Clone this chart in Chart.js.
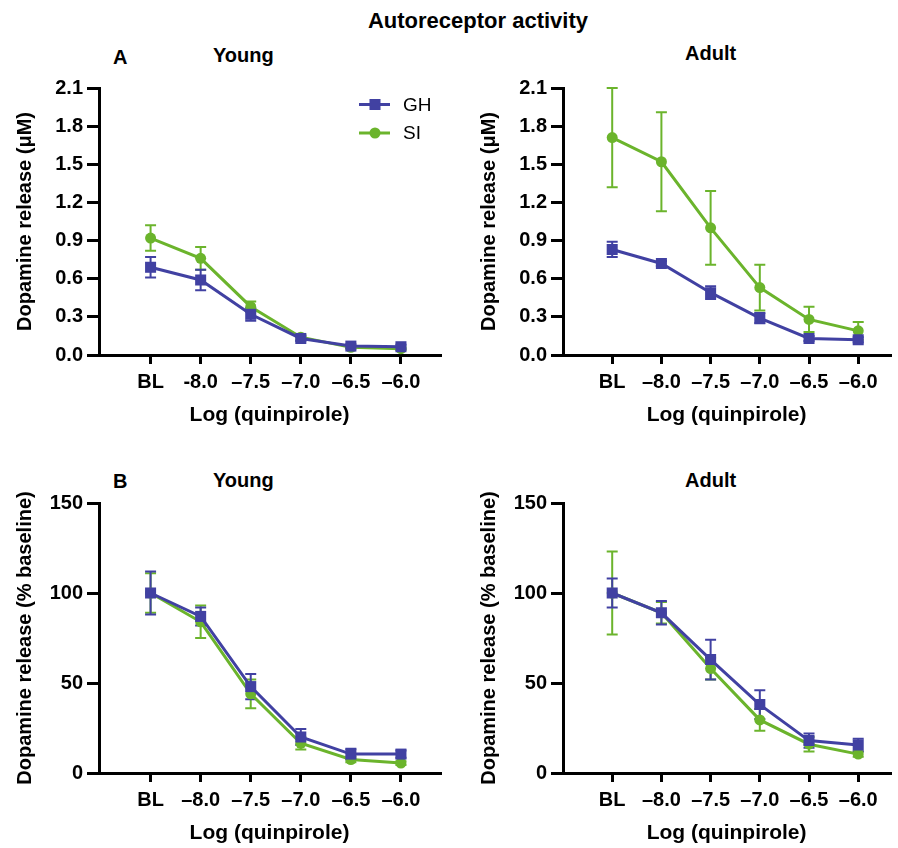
<!DOCTYPE html>
<html>
<head>
<meta charset="utf-8">
<script src="https://cdn.jsdelivr.net/npm/chart.js@4.4.1/dist/chart.umd.min.js"></script>
<style>
  body { margin: 0; background: #fff; }
  #wrap { position: relative; width: 898px; height: 848px; font-family: 'Liberation Sans', Arial, sans-serif; }
  #wrap canvas { position: absolute; }
  .lbl { position: absolute; font-weight: bold; font-size: 20px; line-height: 1; color: #000; white-space: nowrap; }
</style>
</head>
<body>
<div id="wrap">
  <div class="lbl" style="left:478px; top:10px; font-size:22px; transform:translateX(-50%);">Autoreceptor activity</div>
  <div class="lbl" style="left:113px; top:47px;">A</div>
  <div class="lbl" style="left:213px; top:45px;">Young</div>
  <div class="lbl" style="left:685px; top:43px;">Adult</div>
  <div class="lbl" style="left:113px; top:471px;">B</div>
  <div class="lbl" style="left:213px; top:470px;">Young</div>
  <div class="lbl" style="left:685px; top:470px;">Adult</div>
  <canvas id="tl" width="450" height="360" style="left:0; top:70px;"></canvas>
  <canvas id="tr" width="448" height="360" style="left:450px; top:70px;"></canvas>
  <canvas id="bl" width="450" height="388" style="left:0; top:460px;"></canvas>
  <canvas id="br" width="448" height="388" style="left:450px; top:460px;"></canvas>
</div>
<script>
// categories (x tick labels)
const doseLabelsA = ['BL', '-8.0', '–7.5', '–7.0', '–6.5', '–6.0'];
const doseLabels = ['BL', '–8.0', '–7.5', '–7.0', '–6.5', '–6.0'];

// y tick labels
const ticksUM = [0, 0.3, 0.6, 0.9, 1.2, 1.5, 1.8, 2.1];
const ticksPct = [0, 50, 100, 150];

// A - Young, dopamine release (µM)
const ghYoungUM = [0.69, 0.59, 0.32, 0.13, 0.07, 0.065];
const ghYoungUMErr = [0.08, 0.08, 0.05, 0.02, 0.015, 0.015];
const siYoungUM = [0.92, 0.76, 0.38, 0.14, 0.06, 0.05];
const siYoungUMErr = [0.10, 0.09, 0.04, 0.02, 0.01, 0.01];

// A - Adult, dopamine release (µM)
const ghAdultUM = [0.83, 0.72, 0.49, 0.29, 0.13, 0.12];
const ghAdultUMErr = [0.06, 0.02, 0.05, 0.04, 0.02, 0.02];
const siAdultUM = [1.71, 1.52, 1.00, 0.53, 0.28, 0.19];
const siAdultUMErr = [0.39, 0.39, 0.29, 0.18, 0.10, 0.07];

// B - Young, % baseline
const ghYoungPct = [100, 87, 48, 20, 10.5, 10.5];
const ghYoungPctErr = [12, 5, 7, 4.5, 3, 2];
const siYoungPct = [100, 84, 44, 16.5, 7.5, 5.5];
const siYoungPctErr = [11, 9, 8, 3.5, 1.5, 1];

// B - Adult, % baseline
const ghAdultPct = [100, 89, 63, 38, 18, 15.5];
const ghAdultPctErr = [8, 6.5, 11, 8, 4, 3.5];
const siAdultPct = [100, 89, 58, 29.5, 16, 10.5];
const siAdultPctErr = [23, 6, 6, 6, 4, 1.5];

const GH_COLOR = '#4141A2';
const SI_COLOR = '#6BB42C';
const FONT = "'Liberation Sans', Arial, sans-serif";

// error bars drawn under the markers
const errorBarPlugin = {
  id: 'errorBars',
  beforeDatasetsDraw(chart) {
    const ctx = chart.ctx;
    const yScale = chart.scales.y;
    // SI first so GH sits on top
    for (let d = chart.data.datasets.length - 1; d >= 0; d--) {
      const ds = chart.data.datasets[d];
      const meta = chart.getDatasetMeta(d);
      ctx.save();
      ctx.strokeStyle = ds.borderColor;
      ctx.lineWidth = 2;
      meta.data.forEach((pt, i) => {
        const v = ds.data[i].y, e = ds.errors[i];
        const yt = yScale.getPixelForValue(v + e);
        const yb = yScale.getPixelForValue(v - e);
        ctx.beginPath();
        ctx.moveTo(pt.x, yt); ctx.lineTo(pt.x, yb);
        ctx.moveTo(pt.x - 5.5, yt); ctx.lineTo(pt.x + 5.5, yt);
        ctx.moveTo(pt.x - 5.5, yb); ctx.lineTo(pt.x + 5.5, yb);
        ctx.stroke();
      });
      ctx.restore();
    }
  }
};

// legend placed inside panel A Young
const legendPlugin = {
  id: 'panelLegend',
  afterDraw(chart) {
    const ctx = chart.ctx;
    chart.data.datasets.forEach((ds, i) => {
      const y = 34.5 + i * 28.5;
      ctx.save();
      ctx.strokeStyle = ds.borderColor;
      ctx.lineWidth = 3;
      ctx.beginPath();
      ctx.moveTo(359, y); ctx.lineTo(390, y);
      ctx.stroke();
      ctx.fillStyle = ds.borderColor;
      Chart.helpers.drawPoint(ctx, { pointStyle: ds.pointStyle, radius: ds.pointRadius, borderWidth: 0 }, 375, y);
      ctx.fillStyle = '#000';
      ctx.font = '19px ' + FONT;
      ctx.textBaseline = 'middle';
      ctx.fillText(ds.label, 403, y + 1);
      ctx.restore();
    });
  }
};

function series(label, values, errors, color, style, radius) {
  return {
    label: label,
    data: values.map((v, i) => ({ x: i, y: v })),
    errors: errors,
    borderColor: color,
    backgroundColor: color,
    pointBackgroundColor: color,
    pointBorderWidth: 0,
    pointStyle: style,
    pointRadius: radius,
    borderWidth: 3,
    tension: 0
  };
}

function makePanel(id, opts) {
  const plugins = [errorBarPlugin];
  if (opts.legend) plugins.push(legendPlugin);
  return new Chart(document.getElementById(id), {
    type: 'line',
    data: {
      datasets: [
        series('GH', opts.gh, opts.ghErr, GH_COLOR, 'rect', 7.8),
        series('SI', opts.si, opts.siErr, SI_COLOR, 'circle', 5.5)
      ]
    },
    plugins: plugins,
    options: {
      responsive: false,
      animation: false,
      devicePixelRatio: 1,
      layout: { padding: { top: opts.padTop, right: opts.padRight, left: 0, bottom: 0 } },
      plugins: { legend: { display: false }, tooltip: { enabled: false } },
      scales: {
        x: {
          type: 'linear',
          min: opts.xMin, max: opts.xMax,
          afterBuildTicks: s => { s.ticks = opts.labels.map((l, i) => ({ value: i })); },
          afterFit: s => { s.height = 75; },
          grid: { drawOnChartArea: false, drawTicks: true, tickLength: 9, color: '#000', lineWidth: 3 },
          border: { color: '#000', width: 3 },
          ticks: {
            autoSkip: false, maxRotation: 0, padding: 6, color: '#000',
            font: { family: FONT, size: 20, weight: 'bold' },
            callback: v => opts.labels[v]
          },
          title: {
            display: true, text: 'Log (quinpirole)', color: '#000',
            font: { family: FONT, size: 21, weight: 'bold' },
            padding: { top: 0, bottom: 2 }
          }
        },
        y: {
          min: 0, max: opts.yTicks[opts.yTicks.length - 1],
          afterBuildTicks: s => { s.ticks = opts.yTicks.map(v => ({ value: v })); },
          afterFit: s => { s.width = opts.yWidth; },
          grid: { drawOnChartArea: false, drawTicks: true, tickLength: 12, color: '#000', lineWidth: 3 },
          border: { color: '#000', width: 3 },
          ticks: {
            padding: 4, color: '#000',
            font: { family: FONT, size: 20, weight: 'bold' },
            callback: v => opts.yFmt(v)
          },
          title: {
            display: true, text: opts.yTitle, color: '#000',
            font: { family: FONT, size: 20, weight: 'bold' },
            padding: { top: opts.yTitlePad, bottom: 0 }
          }
        }
      }
    }
  });
}

const fmtUM = v => v.toFixed(1);
const fmtPct = v => String(v);

makePanel('tl', {
  gh: ghYoungUM, ghErr: ghYoungUMErr, si: siYoungUM, siErr: siYoungUMErr,
  labels: doseLabelsA, yTicks: ticksUM, yFmt: fmtUM, yTitle: 'Dopamine release (μM)',
  xMin: -1.03, xMax: 5.78, yWidth: 99, yTitlePad: 13, padTop: 18, padRight: 10, legend: true
});
makePanel('tr', {
  gh: ghAdultUM, ghErr: ghAdultUMErr, si: siAdultUM, siErr: siAdultUMErr,
  labels: doseLabels, yTicks: ticksUM, yFmt: fmtUM, yTitle: 'Dopamine release (μM)',
  xMin: -1.0, xMax: 5.65, yWidth: 113, yTitlePad: 27, padTop: 18, padRight: 1
});
makePanel('bl', {
  gh: ghYoungPct, ghErr: ghYoungPctErr, si: siYoungPct, siErr: siYoungPctErr,
  labels: doseLabels, yTicks: ticksPct, yFmt: fmtPct, yTitle: 'Dopamine release (% baseline)',
  xMin: -1.03, xMax: 5.78, yWidth: 99, yTitlePad: 13, padTop: 43, padRight: 10
});
makePanel('br', {
  gh: ghAdultPct, ghErr: ghAdultPctErr, si: siAdultPct, siErr: siAdultPctErr,
  labels: doseLabels, yTicks: ticksPct, yFmt: fmtPct, yTitle: 'Dopamine release (% baseline)',
  xMin: -1.0, xMax: 5.65, yWidth: 113, yTitlePad: 27, padTop: 43, padRight: 1
});
</script>
</body>
</html>
